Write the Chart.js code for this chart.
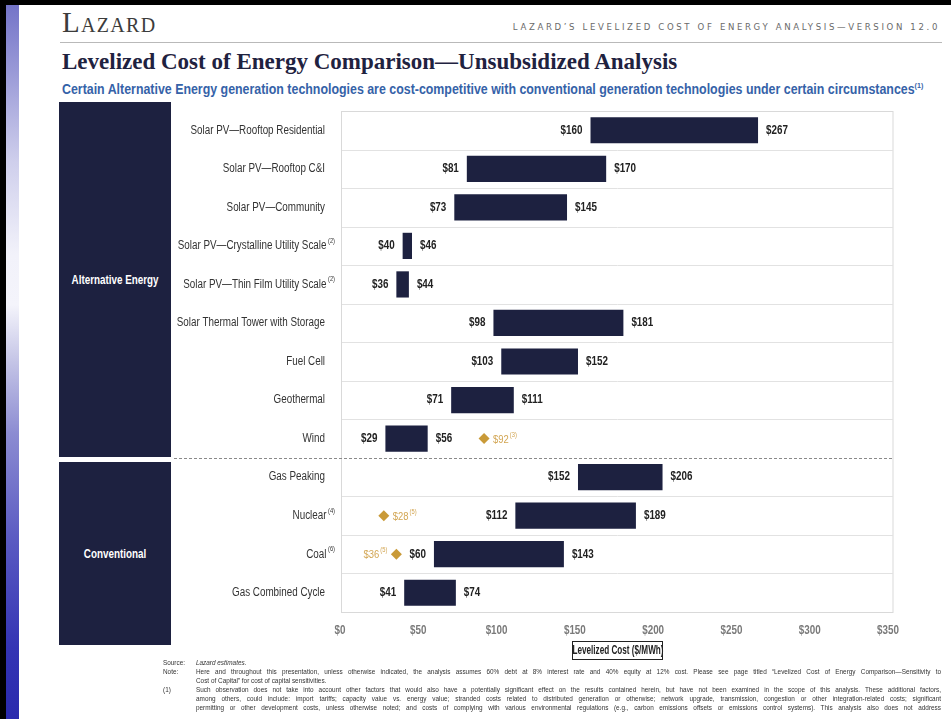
<!DOCTYPE html>
<html>
<head>
<meta charset="utf-8">
<script src="https://cdn.jsdelivr.net/npm/chart.js@4.4.1/dist/chart.umd.min.js"></script>
<style>
  html, body { margin:0; padding:0; }
  body { width:951px; height:719px; position:relative; overflow:hidden; background:#fff; font-family:"Liberation Sans",Arial,sans-serif; }
  .abs { position:absolute; }
  .nar { display:inline-block; white-space:nowrap; transform:scaleX(0.82); }
  #topbar { left:0; top:0; width:951px; height:5px; background:#000; }
  #leftbar { left:0; top:0; width:6px; height:719px; background:#000; }
  #strip { left:6px; top:5px; width:13px; height:714px;
    background:linear-gradient(to bottom,#7474c8 0%,#9c9cd8 10%,#cfcfec 22%,#f2f2fa 35%,#f4f4fb 42%,#c4c4e6 50%,#8c8cd2 60%,#5a5ac2 75%,#3434b4 90%,#2a2aae 100%); }
  #logo { left:62px; top:6px; font-family:"Liberation Serif",serif; font-size:29px; color:#3c3c3c; font-variant:small-caps; letter-spacing:1.3px; }
  #hdr { right:11px; top:21px; font-family:"DejaVu Sans Condensed","DejaVu Sans",sans-serif; font-size:9.5px; color:#6a6a6a; letter-spacing:2.65px; }
  #hline { left:60px; top:42px; width:882px; height:1px; background:#b9b9b9; }
  #title { left:62px; top:49px; font-family:"Liberation Serif",serif; font-weight:bold; font-size:23px; color:#1f2240; }
  #subtitle { left:62px; top:81px; font-size:14px; font-weight:bold; color:#3562a8; }
  #subtitle .nar { transform-origin:left center; transform:scaleX(0.885); }
  #subtitle sup { font-size:8px; }
  .panel { left:59px; width:112px; background:#1d2140; color:#fff; font-weight:bold; font-size:12px; display:flex; align-items:center; justify-content:center; }
  .panel .nar { transform-origin:center center; }
  #p1 { top:102px; height:355px; }
  #p2 { top:462px; height:183px; }
  #axtitle { left:572px; top:641px; width:89px; height:17px; border:1px solid #222; font-size:12px; font-weight:bold; color:#222; overflow:visible; }
  #axtitle .nar { position:absolute; left:50%; top:1px; transform:translateX(-50%) scaleX(0.68); transform-origin:center center; }
  #notes { left:163px; top:658px; width:778px; font-size:6.4px; color:#333; line-height:9px; }
  .nl { display:flex; }
  .nk { width:33px; flex:none; }
  .nt { flex:1; text-align:justify; text-align-last:justify; white-space:nowrap; overflow:hidden; }
  .nt.last { text-align-last:left; }
</style>
</head>
<body>
<div class="abs" id="topbar"></div>
<div class="abs" id="leftbar"></div>
<div class="abs" id="strip"></div>
<div class="abs" id="logo">Lazard</div>
<div class="abs" id="hdr">LAZARD’S LEVELIZED COST OF ENERGY ANALYSIS—VERSION 12.0</div>
<div class="abs" id="hline"></div>
<div class="abs" id="title">Levelized Cost of Energy Comparison—Unsubsidized Analysis</div>
<div class="abs" id="subtitle"><span class="nar">Certain Alternative Energy generation technologies are cost-competitive with conventional generation technologies under certain circumstances<sup>(1)</sup></span></div>
<div class="abs panel" id="p1"><span class="nar">Alternative Energy</span></div>
<div class="abs panel" id="p2"><span class="nar">Conventional</span></div>
<canvas id="c" width="951" height="719" class="abs" style="left:0;top:0;"></canvas>
<div class="abs" id="axtitle"><span class="nar">Levelized Cost ($/MWh)</span></div>
<div class="abs" id="notes">
  <div class="nl"><div class="nk">Source:</div><div class="nt last"><i>Lazard estimates.</i></div></div>
  <div class="nl"><div class="nk">Note:</div><div class="nt" style="white-space:normal">Here and throughout this presentation, unless otherwise indicated, the analysis assumes 60% debt at 8% interest rate and 40% equity at 12% cost. Please see page titled “Levelized Cost of Energy Comparison—Sensitivity to</div></div>
  <div class="nl"><div class="nk"></div><div class="nt last">Cost of Capital” for cost of capital sensitivities.</div></div>
  <div class="nl"><div class="nk">(1)</div><div class="nt" style="white-space:normal">Such observation does not take into account other factors that would also have a potentially significant effect on the results contained herein, but have not been examined in the scope of this analysis. These additional factors,</div></div>
  <div class="nl"><div class="nk"></div><div class="nt" style="white-space:normal">among others, could include: import tariffs; capacity value vs. energy value; stranded costs related to distributed generation or otherwise; network upgrade, transmission, congestion or other integration-related costs; significant</div></div>
  <div class="nl"><div class="nk"></div><div class="nt" style="white-space:normal">permitting or other development costs, unless otherwise noted; and costs of complying with various environmental regulations (e.g., carbon emissions offsets or emissions control systems). This analysis also does not address</div></div>
</div>
<script>
// ---- data ----
const categories = [
  "Solar PV—Rooftop Residential",
  "Solar PV—Rooftop C&I",
  "Solar PV—Community",
  "Solar PV—Crystalline Utility Scale",
  "Solar PV—Thin Film Utility Scale",
  "Solar Thermal Tower with Storage",
  "Fuel Cell",
  "Geothermal",
  "Wind",
  "Gas Peaking",
  "Nuclear",
  "Coal",
  "Gas Combined Cycle"
];
const categoryNotes = ["", "", "", "(2)", "(2)", "", "", "", "", "", "(4)", "(6)", ""];
const lowValues  = [160, 81, 73, 40, 36, 98, 103, 71, 29, 152, 112, 60, 41];
const highValues = [267, 170, 145, 46, 44, 181, 152, 111, 56, 206, 189, 143, 74];
const markerValues = [null, null, null, null, null, null, null, null, 92, null, 28, 36, null];
const markerNotes  = ["", "", "", "", "", "", "", "", "(3)", "", "(5)", "(5)", ""];
const markerLabelSide = ["", "", "", "", "", "", "", "", "right", "", "right", "left", ""];
const xTickValues = [0, 50, 100, 150, 200, 250, 300, 350];

const NAVY = "#1d2140";
const GOLD = "#c99a38";
const GOLD_TXT = "#d2a552";
const FONT = '"Liberation Sans",Arial,sans-serif';
const SX = 0.82; // narrow-font emulation

function nText(ctx, text, x, y, align) {
  ctx.save();
  ctx.translate(x, y);
  ctx.scale(SX, 1);
  ctx.textAlign = align;
  ctx.fillText(text, 0, 0);
  ctx.restore();
}
function nWidth(ctx, text) { return ctx.measureText(text).width * SX; }

const decorPlugin = {
  id: "decor",
  beforeDatasetsDraw(chart) {
    const ctx = chart.ctx, ca = chart.chartArea, y = chart.scales.y, x = chart.scales.x;
    ctx.save();
    // box
    ctx.strokeStyle = "#d9d9d9"; ctx.lineWidth = 1;
    ctx.strokeRect(ca.left + 1.5, ca.top + 0.5, (ca.right + 5) - (ca.left + 1.5), ca.bottom - ca.top);
    // row separators
    for (let i = 0; i < categories.length - 1; i++) {
      const yy = Math.round((y.getPixelForValue(i) + y.getPixelForValue(i + 1)) / 2) + 0.5;
      ctx.beginPath();
      if (i === 8) {
        ctx.strokeStyle = "#8a8a8a"; ctx.setLineDash([3, 2]);
        ctx.moveTo(174, yy); ctx.lineTo(ca.right + 5, yy);
      } else {
        ctx.strokeStyle = "#e2e2e2"; ctx.setLineDash([]);
        ctx.moveTo(ca.left + 2, yy); ctx.lineTo(ca.right + 5, yy);
      }
      ctx.stroke();
    }
    ctx.setLineDash([]);
    // category labels
    ctx.fillStyle = "#333"; ctx.textBaseline = "middle";
    categories.forEach((c, i) => {
      const yy = y.getPixelForValue(i);
      let xr = 325;
      if (categoryNotes[i]) {
        ctx.font = "7px " + FONT;
        nText(ctx, categoryNotes[i], 335, yy - 5, "right");
        xr = 335 - nWidth(ctx, categoryNotes[i]) - 1.5;
      }
      ctx.font = "12px " + FONT;
      nText(ctx, c, xr, yy, "right");
    });
    // x tick labels
    ctx.fillStyle = "#7a7a7a"; ctx.font = "bold 12px " + FONT;
    xTickValues.forEach(v => nText(ctx, "$" + v, x.getPixelForValue(v), ca.bottom + 19, "center"));
    ctx.restore();
  },
  afterDatasetsDraw(chart) {
    const ctx = chart.ctx;
    ctx.save();
    ctx.textBaseline = "middle";
    const bars = chart.getDatasetMeta(0).data;
    bars.forEach((b, i) => {
      const p = b.getProps(["x", "y", "base"], true);
      const left = Math.min(p.x, p.base), right = Math.max(p.x, p.base);
      ctx.font = "bold 12px " + FONT; ctx.fillStyle = "#222";
      nText(ctx, "$" + lowValues[i], left - 8, p.y, "right");
      nText(ctx, "$" + highValues[i], right + 8, p.y, "left");
    });
    const pts = chart.getDatasetMeta(1).data;
    pts.forEach((pt, i) => {
      if (markerValues[i] == null) return;
      const label = "$" + markerValues[i];
      ctx.fillStyle = GOLD_TXT;
      ctx.font = "11.5px " + FONT;
      const w = nWidth(ctx, label);
      ctx.font = "7px " + FONT;
      const ws = nWidth(ctx, markerNotes[i]);
      const x0 = markerLabelSide[i] === "right" ? pt.x + 9 : pt.x - 9 - w - ws - 1;
      ctx.font = "11.5px " + FONT; nText(ctx, label, x0, pt.y + 1, "left");
      ctx.font = "7px " + FONT; nText(ctx, markerNotes[i], x0 + w + 1, pt.y - 4, "left");
    });
    ctx.restore();
  }
};

new Chart(document.getElementById("c"), {
  type: "bar",
  data: {
    labels: categories,
    datasets: [
      {
        data: lowValues.map((v, i) => [v, highValues[i]]),
        backgroundColor: NAVY,
        borderWidth: 0,
        categoryPercentage: 1,
        barPercentage: 0.68
      },
      {
        type: "line",
        indexAxis: "y",
        data: markerValues,
        showLine: false,
        pointStyle: "rectRot",
        pointRadius: 5.5,
        pointBackgroundColor: GOLD,
        pointBorderColor: GOLD,
        borderWidth: 0
      }
    ]
  },
  options: {
    indexAxis: "y",
    responsive: false,
    devicePixelRatio: 1,
    animation: false,
    layout: { padding: { left: 340, right: 63, top: 111, bottom: 77 } },
    plugins: { legend: { display: false }, tooltip: { enabled: false } },
    scales: {
      y: { type: "category", display: false, offset: true },
      x: {
        type: "linear", min: 0, max: 350,
        afterBuildTicks(s) { s.ticks = xTickValues.map(v => ({ value: v })); },
        afterFit(s) { s.height = 30; },
        grid: { display: false },
        border: { display: false },
        ticks: { display: false }
      }
    }
  },
  plugins: [decorPlugin]
});
</script>
</body>
</html>
